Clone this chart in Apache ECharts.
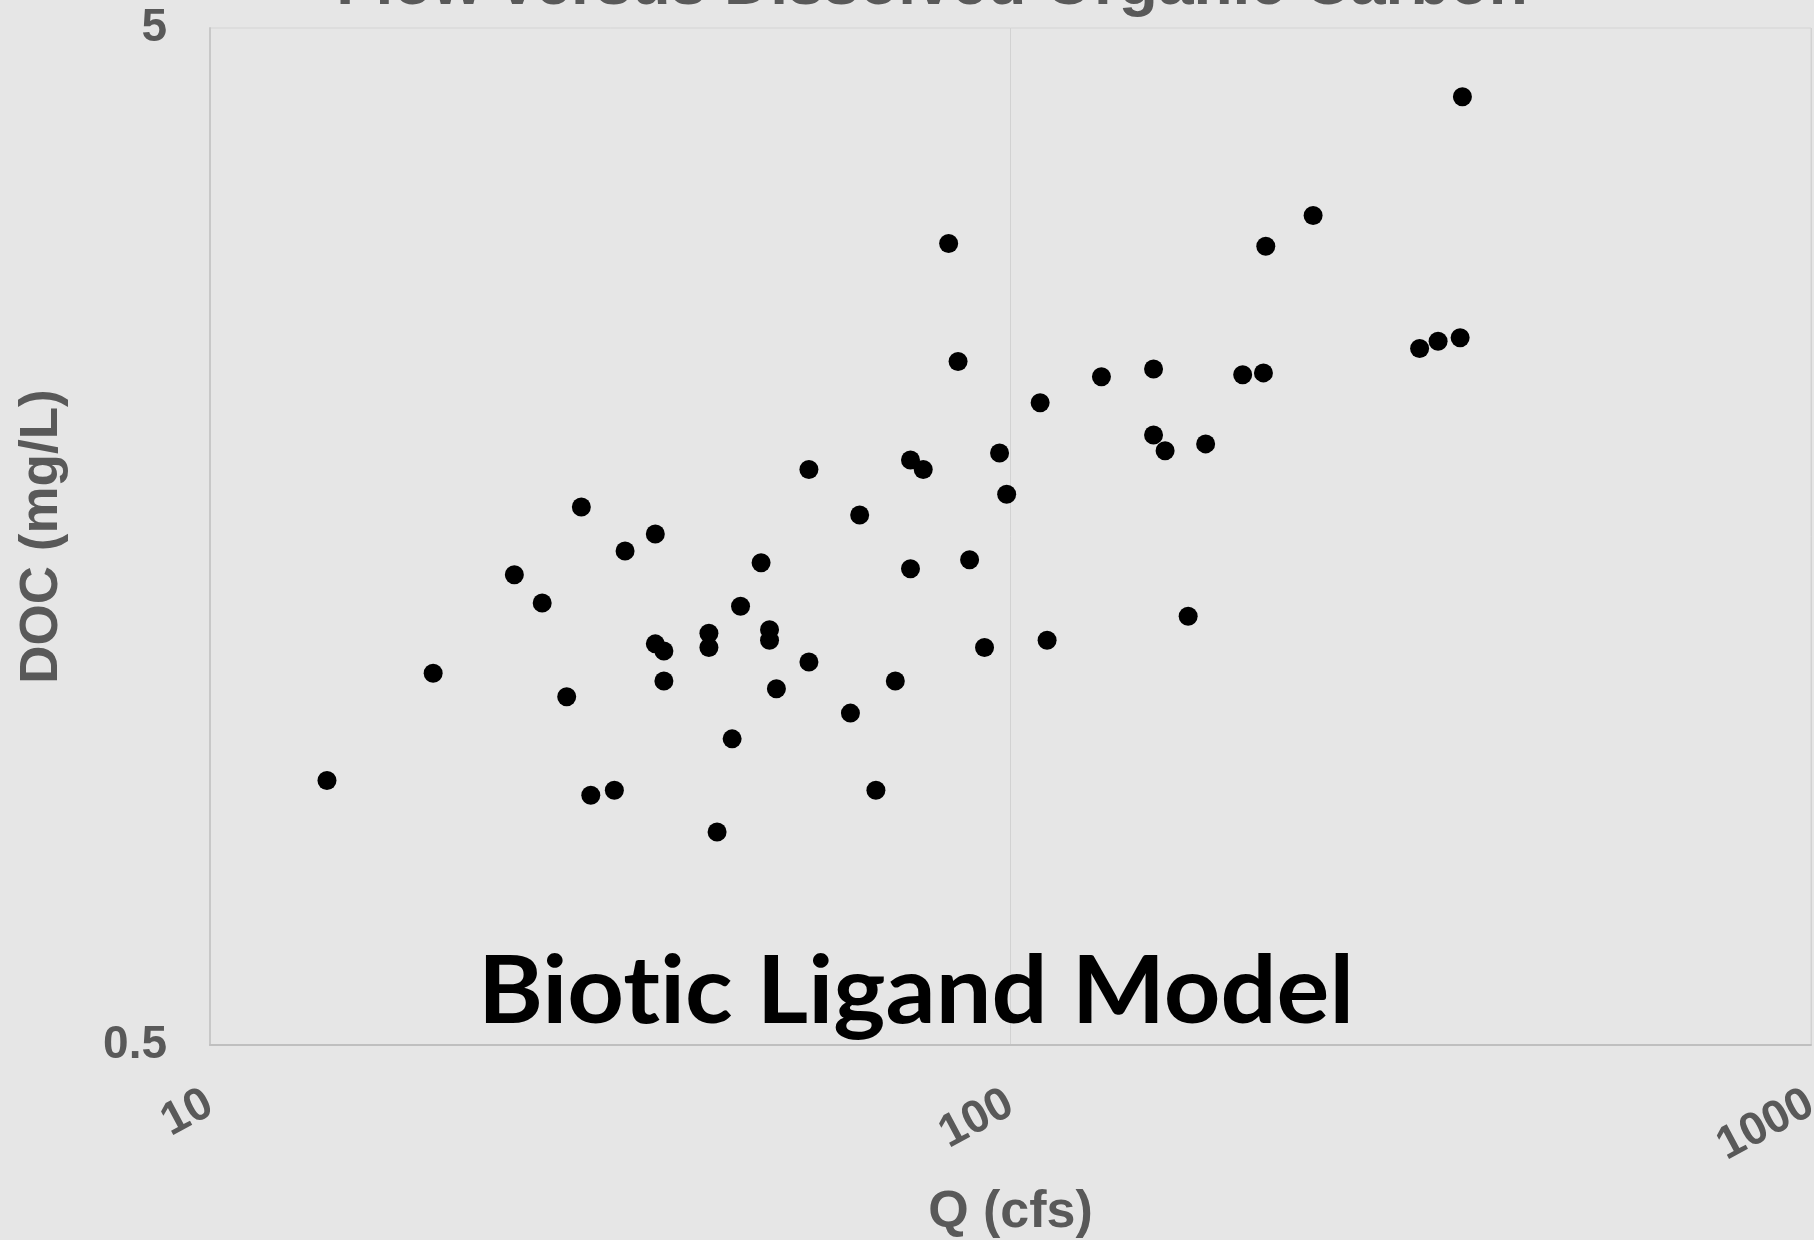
<!DOCTYPE html>
<html>
<head>
<meta charset="utf-8">
<script src="https://cdn.jsdelivr.net/npm/echarts@6/dist/echarts.min.js"></script>
<style>
  html, body { margin: 0; padding: 0; background: #e6e6e6; }
  #main { width: 1814px; height: 1240px; }
</style>
</head>
<body>
<div id="main"></div>
<script>
// flow (cfs) and DOC (mg/L), one entry per sample
const flowCfs = [
  14.0, 19.0, 24.0, 26.0, 27.9, 29.1, 29.9, 32.0, 33.0, 36.0,
  36.0, 36.9, 36.9, 42.0, 42.0, 43.0, 44.9, 46.0, 48.8, 50.0,
  50.0, 51.0, 56.0, 56.0, 63.1, 64.8, 67.9, 71.8, 75.0, 75.0,
  77.8, 83.7, 86.0, 88.9, 92.8, 96.9, 98.9, 108.9, 111.1, 129.9,
  150.9, 150.9, 156.0, 166.7, 175.3, 195.0, 207.0, 208.4, 238.8, 324.4,
  342.1, 364.5, 366.9
];
const docMgL = [
  0.91, 1.16, 1.45, 1.36, 1.10, 1.69, 0.88, 0.89, 1.53, 1.59,
  1.24, 1.22, 1.14, 1.27, 1.23, 0.81, 1.00, 1.35, 1.49, 1.28,
  1.25, 1.12, 1.84, 1.19, 1.06, 1.66, 0.89, 1.14, 1.88, 1.47,
  1.84, 3.07, 2.35, 1.50, 1.23, 1.91, 1.74, 2.14, 1.25, 2.27,
  2.31, 1.99, 1.92, 1.32, 1.95, 2.28, 2.29, 3.05, 3.27, 2.42,
  2.46, 2.48, 4.28
];
const yTickLabels = [0.5, 5];

const chartTitle = 'Flow versus Dissolved Organic Carbon';
// zero-width non-joiner keeps Lato from drawing the "ti" ligature
const overlayText = 'Biot\u200Cic Ligand Model';

const points = flowCfs.map((q, i) => [q, docMgL[i]]);

const grey = '#595959';
const axisFont = '"Liberation Sans", Arial, sans-serif';

// stretch the overlay text to the width it has in the picture
const ctx = document.createElement('canvas').getContext('2d');
ctx.font = 'bold 94px Lato';
const overlayScale = 876 / ctx.measureText(overlayText).width;

const myChart = echarts.init(document.getElementById('main'));
const option = {
  animation: false,
  backgroundColor: '#e6e6e6',
  grid: {
    left: 210,
    right: 3,
    top: 28,
    bottom: 195,
    outerBoundsMode: 'none',
    containLabel: false,
    show: true,
    borderColor: '#d4d4d4',
    borderWidth: 1,
    backgroundColor: 'transparent'
  },
  xAxis: {
    type: 'log',
    logBase: 10,
    min: 10,
    max: 1000,
    name: 'Q (cfs)',
    nameLocation: 'middle',
    nameGap: 142,
    nameTextStyle: { color: grey, fontSize: 52, fontWeight: 'bold', fontFamily: axisFont },
    axisLine: { show: true, lineStyle: { color: '#bfbfbf', width: 2 } },
    axisTick: { show: false },
    splitLine: { show: true, lineStyle: { color: '#d2d2d2', width: 1 } },
    minorTick: { show: false },
    axisLabel: {
      rotate: 28,
      margin: 56,
      color: grey,
      fontSize: 46,
      fontWeight: 'bold',
      fontFamily: axisFont,
      formatter: function (v) {
        return String(Math.round(v));
      }
    }
  },
  yAxis: {
    type: 'log',
    logBase: 10,
    min: 0.5,
    max: 5,
    name: 'DOC (mg/L)',
    nameLocation: 'middle',
    nameGap: 141,
    nameTextStyle: { color: grey, fontSize: 53, fontWeight: 'bold', fontFamily: axisFont },
    axisLine: { show: true, lineStyle: { color: '#c8c8c8', width: 2 } },
    axisTick: { show: false },
    splitLine: { show: false },
    axisLabel: {
      margin: 43,
      color: grey,
      fontSize: 46,
      fontWeight: 'bold',
      fontFamily: axisFont,
      formatter: function (v) {
        const hit = yTickLabels.find(t => Math.abs(t - v) < 1e-6);
        return hit === undefined ? '' : String(hit);
      }
    }
  },
  graphic: [
    {
      type: 'text',
      x: 932,
      y: -14,
      style: {
        text: chartTitle,
        align: 'center',
        verticalAlign: 'middle',
        fill: grey,
        font: 'bold 64px ' + axisFont
      },
      z: 10
    },
    {
      type: 'text',
      x: 916,
      y: 993,
      scaleX: overlayScale,
      style: {
        text: overlayText,
        align: 'center',
        verticalAlign: 'middle',
        fill: '#000',
        font: 'bold 94px Lato'
      },
      z: 10
    }
  ],
  series: [
    {
      type: 'scatter',
      data: points,
      symbol: 'circle',
      symbolSize: 19,
      itemStyle: { color: '#000', opacity: 1 }
    }
  ]
};
myChart.setOption(option);
</script>
</body>
</html>
